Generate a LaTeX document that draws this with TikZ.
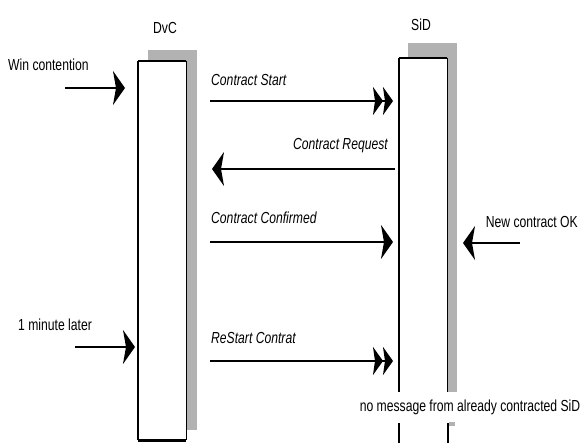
\documentclass[tikz,border=0pt]{standalone}
\usepackage{fontspec}
\setmainfont{Liberation Sans}[FakeStretch=0.76]
\usetikzlibrary{arrows.meta}
\begin{document}
\begin{tikzpicture}[x=1pt,y=-1pt,
  lbl/.style={inner sep=0pt, font=\fontsize{16}{19}\selectfont},
  msg/.style={inner sep=0pt, font=\fontsize{16}{19}\selectfont\itshape},
  shade/.style={fill=black!30, draw=none},
  lifeline/.style={fill=white, draw=none, inner sep=0pt, minimum width=48pt, anchor=north west},
  edge/.style={line width=1.3pt},
  wire/.style={line width=1.8pt},
  tip/.style={-{Stealth[length=12pt,width=34pt,inset=3pt]}},
  dtip/.style={-{Stealth[length=10pt,width=28pt,inset=2pt]Stealth[length=10pt,width=28pt,inset=2pt]}},
]
\useasboundingbox (0,0) rectangle (583,443);

% DvC lifeline with its drop shadow
\fill[shade] (148,50) rectangle (197,430);
\node[lifeline, minimum height=379pt] (dvc) at (138,61) {};
\draw[edge] (dvc.north west) -- (dvc.south west);
\draw[edge] (dvc.north east) -- (dvc.south east);
\draw[line width=2.4pt] (dvc.north west) -- (dvc.north east);
\draw[line width=2.2pt] (dvc.south west) -- (dvc.south east);

% SiD lifeline, interrupted by the note near its foot
\fill[shade] (408,43) rectangle (457,392);
\node[lifeline, minimum height=334pt] (sid) at (399,58) {};
\draw[edge] (sid.north west) -- (sid.south west);
\draw[edge] (sid.north east) -- (sid.south east);
\draw[line width=2.4pt] (sid.north west) -- (sid.north east);
\coordinate (sidLa) at (399,423);
\coordinate (sidLb) at (399,443);
\coordinate (sidRa) at (448,423);
\coordinate (sidRb) at (448,443);
\draw[edge] (sidLa) -- (sidLb);
\draw[edge] (sidRa) -- (sidRb);
\fill[shade] (448.6,422.4) rectangle (455,426);

% Titles
\node[lbl] (dvclbl) at (165,28) {DvC};
\node[lbl] (sidlbl) at (421,25) {SiD};

% Event labels
\node[lbl, anchor=west] (win) at (8,65) {Win contention};
\node[lbl, anchor=west] (later) at (18,325) {1 minute later};
\node[lbl, anchor=east] (ok) at (578,222) {New contract OK};
\node[lbl, fill=white, inner ysep=2pt] (nomsg) at (470,407) {no message from already contracted SiD};

% Message labels
\node[msg, anchor=west] (m1) at (211,80) {Contract Start};
\node[msg, anchor=east] (m2) at (388,146) {Contract Request};
\node[msg, anchor=west] (m3) at (211,218) {Contract Confirmed};
\node[msg, anchor=west] (m4) at (211,338) {ReStart Contrat};

% Arrow end points
\coordinate (winS) at (65,88);     \coordinate (winE) at (125,88);
\coordinate (laterS) at (75,347);  \coordinate (laterE) at (135,347);
\coordinate (okS) at (520,243);    \coordinate (okE) at (463,243);
\coordinate (m1S) at (210,101);    \coordinate (m1E) at (393,101);
\coordinate (m2S) at (395,169);    \coordinate (m2E) at (212,169);
\coordinate (m3S) at (210,242);    \coordinate (m3E) at (393,242);
\coordinate (m4S) at (210,361);    \coordinate (m4E) at (393,361);

% Arrows
\draw[wire, tip] (winS) -- (winE);
\draw[wire, tip] (laterS) -- (laterE);
\draw[wire, tip] (okS) -- (okE);
\draw[wire, dtip] (m1S) -- (m1E);
\draw[wire, tip] (m2S) -- (m2E);
\draw[wire, tip] (m3S) -- (m3E);
\draw[wire, dtip] (m4S) -- (m4E);
\end{tikzpicture}
\end{document}
